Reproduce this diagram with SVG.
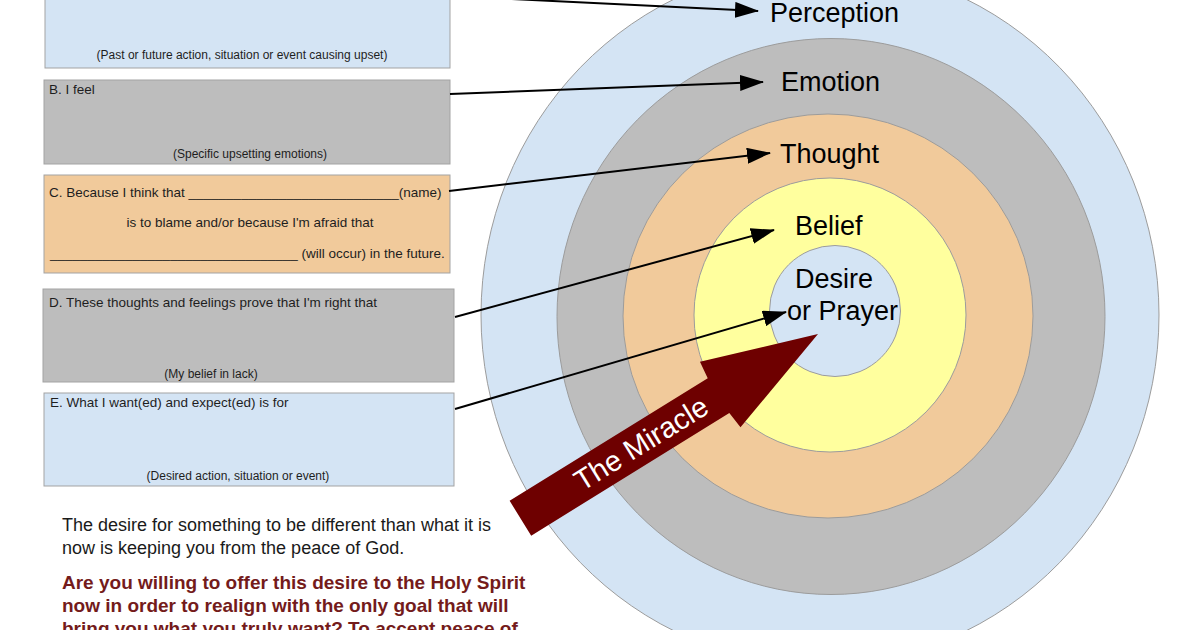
<svg xmlns="http://www.w3.org/2000/svg" width="1200" height="630" viewBox="0 0 1200 630">
<defs>
<style>
.ring{stroke:#9c9c9c;stroke-width:1}
.blue{fill:#d4e4f4}
.gray{fill:#bdbdbd}
.orange{fill:#f1ca9b}
.yellow{fill:#ffff9e}
.box{stroke:#a3a3a3;stroke-width:1}
.lbl{font-family:"Liberation Sans",Arial,sans-serif;font-size:13.5px;fill:#1e1e1e}
.sub{font-family:"Liberation Sans",Arial,sans-serif;font-size:12px;fill:#1e1e1e;text-anchor:middle}
.layer{font-family:"Liberation Sans",Arial,sans-serif;font-size:27px;fill:#000}
.body{font-family:"Liberation Sans",Arial,sans-serif;font-size:18px;fill:#1a1a1a}
.bold{font-family:"Liberation Sans",Arial,sans-serif;font-size:19px;font-weight:bold;fill:#741b1b}
.conn{stroke:#000;stroke-width:2;fill:none;marker-end:url(#ah)}
</style>
<marker id="ah" markerUnits="userSpaceOnUse" markerWidth="24" markerHeight="16" refX="23" refY="8" orient="auto">
<path d="M0,0 L24,8 L0,16 z" fill="#000"/>
</marker>
</defs>
<rect width="1200" height="630" fill="#fff"/>

<g id="rings">
<ellipse id="perception" class="ring blue" cx="820" cy="315" rx="339" ry="350"/>
<ellipse id="emotion" class="ring gray" cx="831" cy="316.5" rx="274" ry="278"/>
<ellipse id="thought" class="ring orange" cx="828" cy="316" rx="205" ry="202"/>
<ellipse id="belief" class="ring yellow" cx="830" cy="315" rx="136" ry="137"/>
<ellipse id="desire" class="ring blue" cx="835" cy="311" rx="65.5" ry="65.5"/>
</g>

<g id="boxA">
<rect class="box blue" x="45" y="-30" width="405" height="98"/>
<text class="sub" x="242" y="59">(Past or future action, situation or event causing upset)</text>
</g>
<g id="boxB">
<rect class="box gray" x="44" y="80" width="406" height="84"/>
<text class="lbl" x="49" y="94">B. I feel</text>
<text class="sub" x="250" y="158">(Specific upsetting emotions)</text>
</g>
<g id="boxC">
<rect class="box orange" x="44" y="175" width="406" height="98"/>
<text class="lbl" x="49" y="197">C. Because I think that ____________________________(name)</text>
<text class="lbl" x="250" y="227" text-anchor="middle">is to blame and/or because I'm afraid that</text>
<text class="lbl" x="50" y="258">_________________________________ (will occur) in the future.</text>
</g>
<g id="boxD">
<rect class="box gray" x="43" y="289" width="411" height="93"/>
<text class="lbl" x="49" y="307">D. These thoughts and feelings prove that I'm right that</text>
<text class="sub" x="211" y="378">(My belief in lack)</text>
</g>
<g id="boxE">
<rect class="box blue" x="44" y="393" width="410" height="93"/>
<text class="lbl" x="50" y="407">E. What I want(ed) and expect(ed) is for</text>
<text class="sub" x="238" y="480">(Desired action, situation or event)</text>
</g>

<g id="connectors">
<line class="conn" x1="450" y1="-4" x2="758" y2="11"/>
<line class="conn" x1="450" y1="94" x2="763" y2="82"/>
<line class="conn" x1="449" y1="191" x2="770" y2="153"/>
<line class="conn" x1="455" y1="317" x2="774" y2="230"/>
<line class="conn" x1="455" y1="409" x2="786" y2="312"/>
</g>

<g id="miracle" transform="translate(818,334) rotate(-31.76)">
<polygon points="0,0 -115,-38.5 -117,-20.5 -350,-20.5 -350,20.5 -117,20.5 -115,38.5" fill="#6e0000"/>
<text x="-208" y="10" text-anchor="middle" font-family="Liberation Sans, Arial, sans-serif" font-size="29" fill="#fff">The Miracle</text>
</g>

<g id="layer-labels">
<text class="layer" x="770" y="22">Perception</text>
<text class="layer" x="781" y="91">Emotion</text>
<text class="layer" x="780" y="163">Thought</text>
<text class="layer" x="795" y="235">Belief</text>
<text class="layer" x="795" y="288">Desire</text>
<text class="layer" x="787" y="320">or Prayer</text>
</g>

<g id="caption">
<text class="body" x="62" y="531">The desire for something to be different than what it is</text>
<text class="body" x="62" y="554">now is keeping you from the peace of God.</text>
<text class="bold" x="62" y="589">Are you willing to offer this desire to the Holy Spirit</text>
<text class="bold" x="62" y="612">now in order to realign with the only goal that will</text>
<text class="bold" x="62" y="635">bring you what you truly want? To accept peace of</text>
</g>
</svg>
